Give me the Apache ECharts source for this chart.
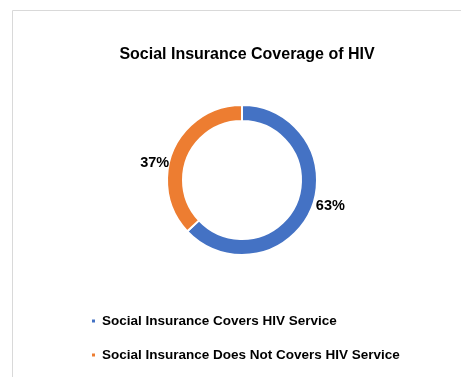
<!DOCTYPE html>
<html>
<head>
<meta charset="utf-8">
<script src="https://cdn.jsdelivr.net/npm/echarts@6/dist/echarts.min.js"></script>
<style>
  html, body { margin: 0; padding: 0; background: #fff; }
  #chart { width: 461px; height: 377px; }
</style>
</head>
<body>
<div id="chart"></div>
<script>
// chart data
var categories = ["Social Insurance Covers HIV Service", "Social Insurance Does Not Covers HIV Service"];
var shares = [63, 37];
var colors = ["#4472C4", "#ED7D31"];

var font = "'Liberation Sans', Arial, sans-serif";

var dom = document.getElementById("chart");
var myChart = echarts.init(dom);

// small nudges so the outside labels sit like the original
var labelNudge = [
  { dx: 3, dy: -4 },
  { dx: -2, dy: 13 },
];

var option = {
  animation: false,
  color: colors,
  title: {
    text: "Social Insurance Coverage of HIV",
    left: 242,
    textAlign: "center",
    top: 42,
    textStyle: {
      fontFamily: font,
      fontWeight: "bold",
      fontSize: 16,
      color: "#000",
    },
  },
  legend: {
    orient: "vertical",
    left: 85,
    top: 309,
    itemWidth: 5,
    itemHeight: 5,
    itemGap: 20,
    icon: "rect",
    textStyle: {
      fontFamily: font,
      fontWeight: "bold",
      fontSize: 13.5,
      color: "#000",
      padding: [0, 0, 0, 1],
    },
    data: categories,
  },
  graphic: [
    {
      type: "rect",
      shape: { x: 12.5, y: 10.5, width: 470, height: 400 },
      style: { fill: "none", stroke: "#d9d9d9", lineWidth: 1 },
      z: -1,
    },
  ],
  series: [
    {
      type: "pie",
      center: [242, 180],
      radius: [59, 75],
      startAngle: 90,
      clockwise: true,
      itemStyle: {
        borderColor: "#fff",
        borderWidth: 2,
      },
      label: {
        show: true,
        position: "outside",
        formatter: "{c}%",
        fontFamily: font,
        fontWeight: "bold",
        fontSize: 14.5,
        color: "#000",
        distanceToLabelLine: 2,
      },
      labelLine: {
        show: false,
        length: 0,
        length2: 0,
      },
      labelLayout: function (params) {
        return labelNudge[params.dataIndex];
      },
      emphasis: { disabled: true },
      data: categories.map(function (name, i) {
        return { name: name, value: shares[i] };
      }),
    },
  ],
};

myChart.setOption(option);
</script>
</body>
</html>
